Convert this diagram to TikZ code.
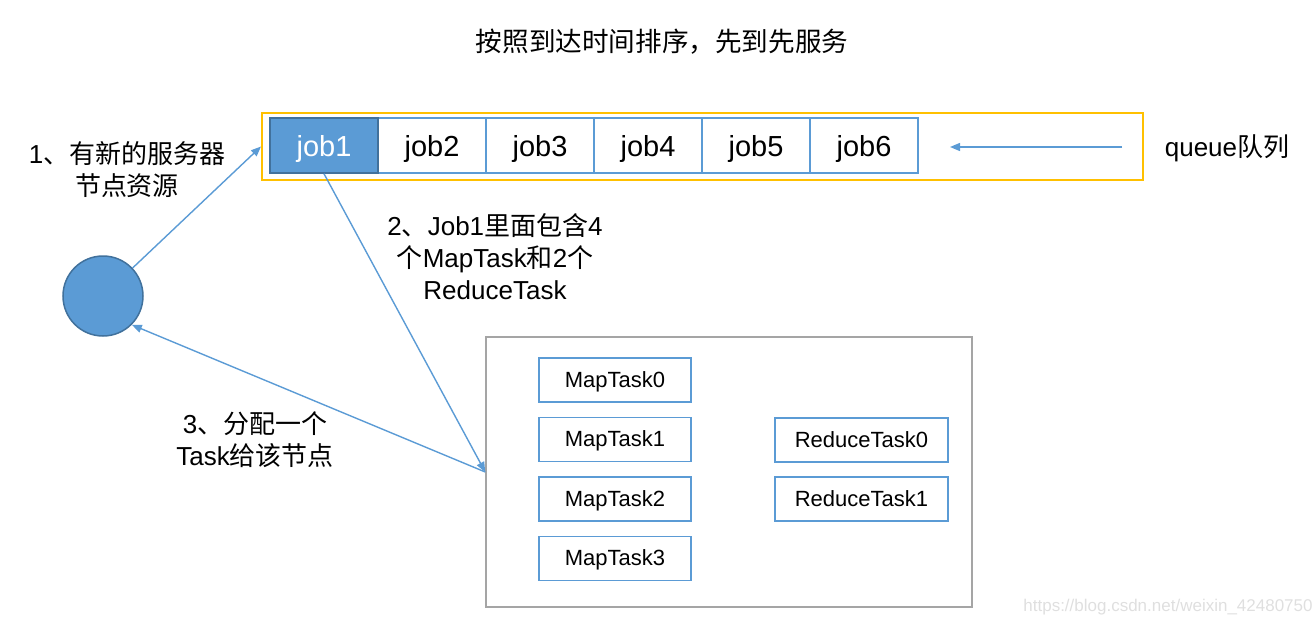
\documentclass[tikz,border=0pt]{standalone}
\usepackage{fontspec}
\setmainfont{Liberation Sans}
\newfontfamily\zh{Noto Sans CJK SC}
\usetikzlibrary{arrows.meta}

\definecolor{taskblue}{HTML}{5B9BD5}
\definecolor{darkblue}{HTML}{41719C}
\definecolor{queueyellow}{HTML}{FFC000}
\definecolor{boxgray}{HTML}{A5A5A5}

\tikzset{
    jobbox/.style={draw=taskblue, line width=0.75pt, minimum width=54pt, minimum height=27.5pt, inner sep=0pt, text height=10.6pt, text depth=0pt, font=\fontsize{14.5}{17}\selectfont},
    taskbox/.style={draw=taskblue, line width=0.75pt, minimum height=22pt, inner sep=0pt, text height=8pt, text depth=0.6pt, font=\fontsize{11}{13}\selectfont},
    arr/.style={draw=taskblue, line width=0.7pt, -{Triangle[length=5pt,width=4pt]}},
    note/.style={align=center, font=\fontsize{13}{16}\selectfont},
}

\begin{document}
\begin{tikzpicture}[x=0.5pt, y=-0.5pt]
    \useasboundingbox (0,0) rectangle (1312,626);

    \node[font=\fontsize{13.3}{16}\selectfont\zh] (title) at (662,42) {按照到达时间排序，先到先服务};

    % queue of jobs
    \node[draw=queueyellow, line width=1pt, minimum width=440.5pt, minimum height=33.5pt] (queue) at (702.5,146.5) {};
    \foreach \i[
        evaluate=\i as \x using 216+108*\i,
    ] in {1,...,6}{
            \node[jobbox] (job\i) at (\x,145.5) {job\i};
        }
    \node[jobbox, fill=taskblue, draw=darkblue, text=white] (job1) at (324,145.5) {job1};
    \coordinate (qtail) at (1122,147);
    \coordinate (qhead) at (950,147);
    \draw[arr] (qtail) -- (qhead);
    \node[note] (qlabel) at (1227,148) {queue{\zh 队列}};

    % server node
    \node[circle, fill=taskblue, draw=darkblue, line width=0.75pt, minimum size=40pt, inner sep=0pt] (server) at (103,296) {};
    \node[note] (step1) at (127,170) {1{\zh 、有新的服务器}\\{\zh 节点资源}};

    % tasks of job1
    \node[draw=boxgray, line width=0.75pt, minimum width=243pt, minimum height=135pt] (tasks) at (729,472) {};
    \foreach \i[
        evaluate=\i as \y using 380+59.5*\i,
    ] in {0,...,3}{
            \node[taskbox, minimum width=76pt] (map\i) at (615,\y) {MapTask\i};
        }
    \foreach \i[
        evaluate=\i as \y using 440+59*\i,
    ] in {0,1}{
            \node[taskbox, minimum width=86.5pt] (reduce\i) at (861.5,\y) {ReduceTask\i};
        }
    \node[note] (step2) at (495,257) {2{\zh 、}Job1{\zh 里面包含}4\\{\zh 个}MapTask{\zh 和}2{\zh 个}\\ReduceTask};
    \node[note] (step3) at (255,440) {3{\zh 、分配一个}\\Task{\zh 给该节点}};

    % connectors
    \draw[arr] (server) -- (queue.west);
    \draw[arr] (job1.south) -- (tasks.west);
    \draw[arr] (tasks.west) -- (server.-45);

    \node[text=gray!25, font=\fontsize{8.5}{10}\selectfont] (mark) at (1168,607) {https://blog.csdn.net/weixin\_42480750};
\end{tikzpicture}
\end{document}
